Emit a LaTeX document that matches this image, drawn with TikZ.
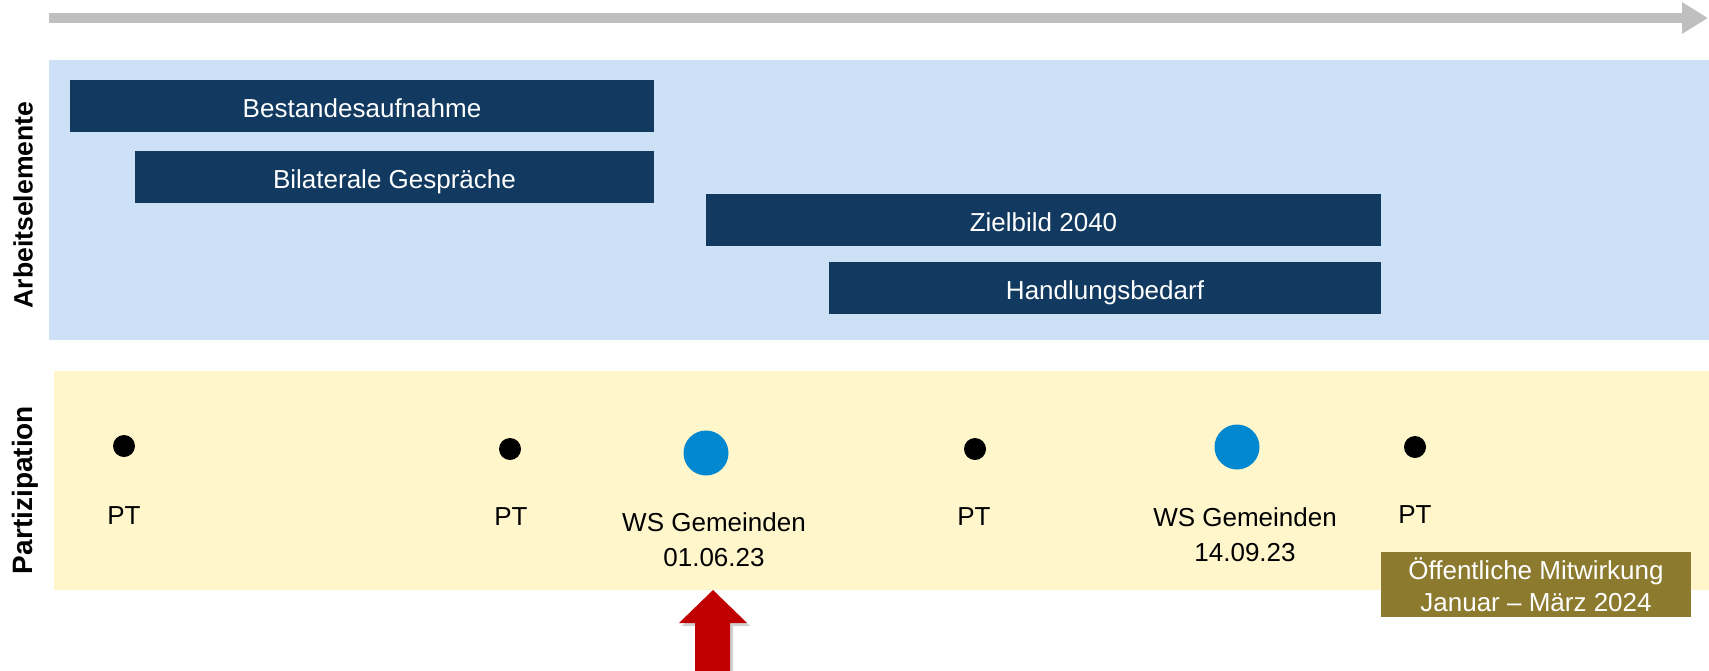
\documentclass[tikz,border=0pt]{standalone}
\usepackage{fontspec}
\setmainfont{Liberation Sans}
\usetikzlibrary{arrows.meta}
\definecolor{tlgray}{RGB}{191,191,191}
\definecolor{bandblue}{HTML}{CCE1F5}
\definecolor{bandyellow}{HTML}{FFF6CC}
\definecolor{navy}{HTML}{123A60}
\definecolor{wsblue}{HTML}{0288D1}
\definecolor{olivebox}{HTML}{8C7A2F}
\definecolor{redarrow}{HTML}{C00000}
\newcommand{\txt}{\fontsize{26}{32}\selectfont}
\newcommand{\txtws}{\fontsize{26}{35}\selectfont}
\begin{document}
\begin{tikzpicture}[x=1pt,y=-1pt,
  every node/.style={inner sep=0pt, outer sep=0pt},
  band/.style={anchor=north west, minimum height=#1},
  task/.style={anchor=north west, fill=navy, text=white, font=\txt,
    minimum height=52pt, text height=22.6pt, text depth=0pt},
  ptdot/.style={circle, fill=black, minimum size=22pt},
  wsdot/.style={circle, fill=wsblue, minimum size=45pt},
  lbl/.style={anchor=north, font=\txtws, align=center, text=black},
  sidelabel/.style={rotate=90, font=\bfseries\fontsize{#1}{32}\selectfont}
]
\useasboundingbox (0,0) rectangle (1709,670);

% timeline arrow
\coordinate (tstart) at (49,18);
\coordinate (tend) at (1708,18);
\draw[tlgray, line width=10.5pt, -{Triangle[length=26pt, width=30pt]}] (tstart) -- (tend);

% bands
\node[band=280pt, fill=bandblue, minimum width=1660pt] (arbband) at (49,60) {};
\node[band=219pt, fill=bandyellow, minimum width=1655pt] (partband) at (54,371) {};

% side labels
\node[sidelabel=26.6] (arblabel) at (23,205) {Arbeitselemente};
\node[sidelabel=28] (partlabel) at (25,490) {Partizipation};

% work elements
\node[task, minimum width=584pt] (bestand) at (70,80) {Bestandesaufnahme};
\node[task, minimum width=519pt] (bilat) at (135,151) {Bilaterale Gespräche};
\node[task, minimum width=675pt] (ziel) at (706,194) {Zielbild 2040};
\node[task, minimum width=552pt] (handl) at (829,262) {Handlungsbedarf};

% participation dots
\node[ptdot] (pt1) at (124,446) {};
\node[ptdot] (pt2) at (510,449) {};
\node[wsdot] (ws1) at (706,453) {};
\node[ptdot] (pt3) at (975,449) {};
\node[wsdot] (ws2) at (1237,447) {};
\node[ptdot] (pt4) at (1415,447) {};

\node[lbl] (pt1l) at (124,507) {PT};
\node[lbl] (pt2l) at (511,508) {PT};
\node[lbl] (ws1l) at (714,513) {WS Gemeinden\\01.06.23};
\node[lbl] (pt3l) at (974,508) {PT};
\node[lbl] (ws2l) at (1245,508) {WS Gemeinden\\14.09.23};
\node[lbl] (pt4l) at (1415,506) {PT};

% public participation box
\node[fill=olivebox, text=white, font=\txt, align=center,
  minimum width=310pt, minimum height=65pt] (pub) at (1536,584.5)
  {Öffentliche Mitwirkung\\Januar – März 2024};

% red arrow (marker)
\coordinate (redtip) at (713,590);
\fill[black, opacity=0.18] ([shift={(3,3)}]redtip) -- ++(34,33) -- ++(-17,0) -- ++(0,50) -- ++(-35,0) -- ++(0,-50) -- ++(-16,0) -- cycle;
\fill[redarrow] (redtip) -- ++(34,33) -- ++(-17,0) -- ++(0,50) -- ++(-35,0) -- ++(0,-50) -- ++(-16,0) -- cycle;
\end{tikzpicture}
\end{document}
